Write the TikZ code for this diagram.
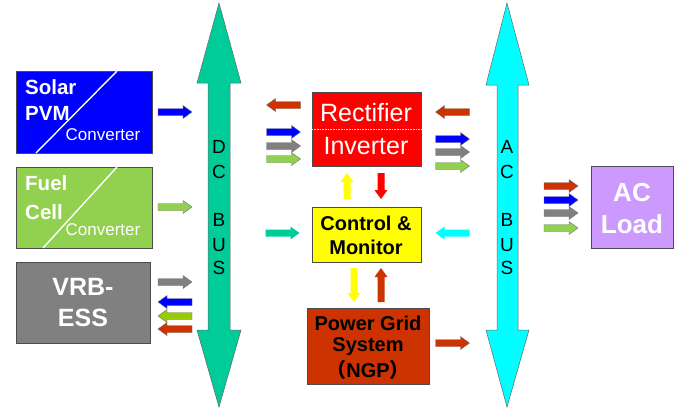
\documentclass[tikz,border=0pt]{standalone}
\usepackage{fontspec}
\setmainfont{Liberation Sans}
\newfontfamily\cjk{Noto Sans CJK SC}
\definecolor{dcbus}{RGB}{0,204,153}
\definecolor{acbus}{RGB}{0,255,255}
\definecolor{fcgreen}{RGB}{146,208,80}
\definecolor{ygreen}{RGB}{153,204,0}
\definecolor{brick}{RGB}{204,51,0}
\definecolor{vgray}{RGB}{128,128,128}
\definecolor{lilac}{RGB}{204,153,255}
\definecolor{sblue}{RGB}{0,0,255}
\definecolor{pred}{RGB}{255,0,0}
\definecolor{pyellow}{RGB}{255,255,0}
\begin{document}
\begin{tikzpicture}[x=1pt,y=-1pt,
  box/.style={draw=black!70, line width=0.6pt},
  outl/.style={draw=black!55, line width=0.4pt},
  nooutl/.style={draw=none},
  bus/.style={draw=black!60, line width=0.5pt},
  buslbl/.style={inner sep=0pt, font=\fontsize{19}{21}\selectfont},
  lbl/.style={inner sep=0pt},
  srcfont/.style={font=\fontsize{20.5}{24}\selectfont\bfseries},
  pics/barrow/.style n args={3}{code={%
    \filldraw[#3, fill=#1] (-#2,-3.5) -- ({#2-9},-3.5) -- ({#2-9},-6.5) -- (#2,0)
      -- ({#2-9},6.5) -- ({#2-9},3.5) -- (-#2,3.5) -- cycle;}},
]
\useasboundingbox (0,0) rectangle (675,408);

% ---------- buses ----------
\draw[bus, fill=dcbus] (219,3) -- (241,83) -- (230,83) -- (230,330) -- (241,330)
  -- (219,407) -- (197,330) -- (208,330) -- (208,83) -- (197,83) -- cycle;
\draw[bus, fill=acbus] (507,3) -- (529,85) -- (518,85) -- (518,330) -- (529,330)
  -- (507,407) -- (486,330) -- (497,330) -- (497,85) -- (486,85) -- cycle;
\foreach \l/\yy [count=\i] in {D/147,C/172,B/220,U/245,S/268}
  \node[buslbl] (dc\i) at (219,\yy) {\l};
\foreach \l/\yy [count=\i] in {A/147,C/172,B/220,U/245,S/268}
  \node[buslbl] (ac\i) at (507,\yy) {\l};

% ---------- left sources ----------
\node[box, fill=sblue, minimum width=136, minimum height=82, anchor=north west] (solar) at (16,71) {};
\draw[white, line width=1.4pt] (117,71) -- (36,153);
\node[lbl, white, anchor=west, srcfont] (solar1) at (25,87) {Solar};
\node[lbl, white, anchor=west, srcfont] (solar2) at (25,113) {PVM};
\node[lbl, white, font=\fontsize{17}{20}\selectfont] (solar3) at (103,135) {Converter};

\node[box, fill=fcgreen, minimum width=136, minimum height=81, anchor=north west] (fuel) at (16,167) {};
\draw[white, line width=1.4pt] (117,167) -- (43,248);
\node[lbl, white, anchor=west, srcfont] (fuel1) at (25,183) {Fuel};
\node[lbl, white, anchor=west, srcfont] (fuel2) at (25,212) {Cell};
\node[lbl, white, font=\fontsize{17}{20}\selectfont] (fuel3) at (103,230) {Converter};

\node[box, fill=vgray, minimum width=134, minimum height=81, anchor=north west] (vrb) at (16,262) {};
\node[lbl, white, font=\fontsize{25}{28}\selectfont\bfseries] (vrb1) at (83,287) {VRB-};
\node[lbl, white, font=\fontsize{25}{28}\selectfont\bfseries] (vrb2) at (83,318) {ESS};

\pic at (175,112) {barrow={sblue}{17}{outl}};
\pic at (175,207) {barrow={fcgreen}{17}{outl}};
\pic at (175,282) {barrow={vgray}{17}{outl}};
\pic[rotate=180] at (175,302) {barrow={sblue}{17}{outl}};
\pic[rotate=180] at (175,316) {barrow={ygreen}{17}{outl}};
\pic[rotate=180] at (175,329) {barrow={brick}{17}{outl}};

% ---------- centre ----------
\node[box, fill=pred, minimum width=109, minimum height=74, anchor=north west] (rect) at (312,92) {};
\draw[white!80!pred, densely dotted, line width=0.6pt] (rect.west |- 0,129) -- (rect.east |- 0,129);
\node[lbl, white, font=\fontsize{25}{28}\selectfont] (rect1) at (366,113) {Rectifier};
\node[lbl, white, font=\fontsize{25}{28}\selectfont] (rect2) at (366,146) {Inverter};

\node[box, fill=pyellow, minimum width=109, minimum height=55, anchor=north west] (ctrl) at (312,207) {};
\node[lbl, font=\fontsize{20}{24}\selectfont\bfseries] (ctrl1) at (366,223) {Control \&};
\node[lbl, font=\fontsize{20}{24}\selectfont\bfseries] (ctrl2) at (366,247) {Monitor};

\node[box, fill=brick, minimum width=122, minimum height=76, anchor=north west] (grid) at (307,308) {};
\node[lbl, font=\fontsize{20}{24}\selectfont\bfseries] (grid1) at (368,323) {Power Grid};
\node[lbl, font=\fontsize{20}{24}\selectfont\bfseries] (grid2) at (368,347) {System};
\node[lbl, font=\fontsize{20}{24}\selectfont\bfseries] (grid3) at (368,370) {{\cjk （}NGP{\cjk ）}};

\pic[rotate=180] at (283.5,105) {barrow={brick}{17}{outl}};
\pic at (283.5,132) {barrow={sblue}{17}{outl}};
\pic at (283.5,146) {barrow={vgray}{17}{outl}};
\pic at (283.5,159) {barrow={fcgreen}{17}{outl}};

\pic[rotate=180] at (452.5,112) {barrow={brick}{17}{outl}};
\pic at (452.5,139) {barrow={sblue}{17}{outl}};
\pic at (452.5,152) {barrow={vgray}{17}{outl}};
\pic at (452.5,166) {barrow={fcgreen}{17}{outl}};

\pic at (282.5,233) {barrow={dcbus}{17}{nooutl}};
\pic[rotate=180] at (452.5,233) {barrow={acbus}{17}{nooutl}};
\pic at (452.5,343) {barrow={brick}{17}{outl}};

\pic[rotate=90] at (347,186) {barrow={pyellow}{13}{nooutl}};
\pic[rotate=-90] at (381,186) {barrow={pred}{13}{nooutl}};
\pic[rotate=-90] at (354,285) {barrow={pyellow}{17}{nooutl}};
\pic[rotate=90] at (381,285) {barrow={brick}{17}{nooutl}};

% ---------- AC load ----------
\node[box, fill=lilac, minimum width=82, minimum height=82, anchor=north west] (load) at (591,166) {};
\node[lbl, white, font=\fontsize{26}{30}\selectfont\bfseries] (load1) at (632,193) {AC};
\node[lbl, white, font=\fontsize{26}{30}\selectfont\bfseries] (load2) at (632,224) {Load};

\pic at (561,186) {barrow={brick}{17}{outl}};
\pic at (561,200) {barrow={sblue}{17}{outl}};
\pic at (561,213) {barrow={vgray}{17}{outl}};
\pic at (561,228) {barrow={fcgreen}{17}{outl}};
\end{tikzpicture}
\end{document}
